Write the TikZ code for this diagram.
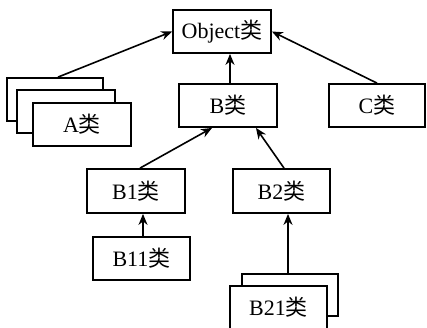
\documentclass[tikz,border=0pt]{standalone}
\usepackage{fontspec}
\setmainfont{Liberation Serif}
\newfontfamily\cjk{Noto Sans CJK SC}
\usetikzlibrary{arrows.meta,calc}
\newcommand{\lei}{{\cjk 类}}
\begin{document}
\begin{tikzpicture}[x=1pt,y=-1pt,
  cls/.style={draw,line width=1.8pt,fill=white,minimum width=97pt,minimum height=43pt,inner sep=0pt,font=\fontsize{22}{25}\selectfont},
  inh/.style={line width=1.6pt,-{Stealth[length=11pt,width=9pt]}}]
\useasboundingbox (0,0) rectangle (427,327);
% A stack
\node[cls,minimum width=96pt] (Aback) at (55,99.5) {};
\node[cls,minimum width=98pt] (Amid) at (66,111.5) {};
\node[cls,minimum width=98pt] (A) at (82,124.5) {A\lei};
\node[cls,minimum width=98pt] (Object) at (222,31.5) {Object\lei};
\node[cls,minimum width=98pt] (B) at (228,105.5) {B\lei};
\node[cls,minimum width=96pt] (C) at (377,105.5) {C\lei};
\node[cls,minimum width=98pt,minimum height=44pt] (B1) at (136,191) {B1\lei};
\node[cls,minimum height=44pt] (B2) at (281.5,191) {B2\lei};
\node[cls] (B11) at (141.5,258.5) {B11\lei};
\node[cls,minimum width=96pt,minimum height=42pt] (B21back) at (290,295) {};
\node[cls] (B21) at (278.5,307.5) {B21\lei};
\coordinate (Bin1) at ($(B.south west)!0.34!(B.south east)$);
\coordinate (Bin2) at ($(B.south west)!0.78!(B.south east)$);
\coordinate (Aout) at ($(Aback.north)+(3,0)$);
\coordinate (Bout) at ($(B.north)+(2,0)$);
\coordinate (B1out) at ($(B1.north)+(4,0)$);
\coordinate (B2out) at ($(B2.north)+(2.5,0)$);
\coordinate (B11out) at ($(B11.north)+(1.5,0)$);
\coordinate (B21out) at ($(B21back.north)+(-2,0)$);
\draw[inh] (Aout) -- (Object.west);
\draw[inh] (Bout) -- (Bout |- Object.south);
\draw[inh] (C.north) -- (Object.east);
\draw[inh] (B1out) -- (Bin1);
\draw[inh] (B2out) -- (Bin2);
\draw[inh] (B11out) -- (B11out |- B1.south);
\draw[inh] (B21out) -- (B21out |- B2.south);
\end{tikzpicture}
\end{document}
